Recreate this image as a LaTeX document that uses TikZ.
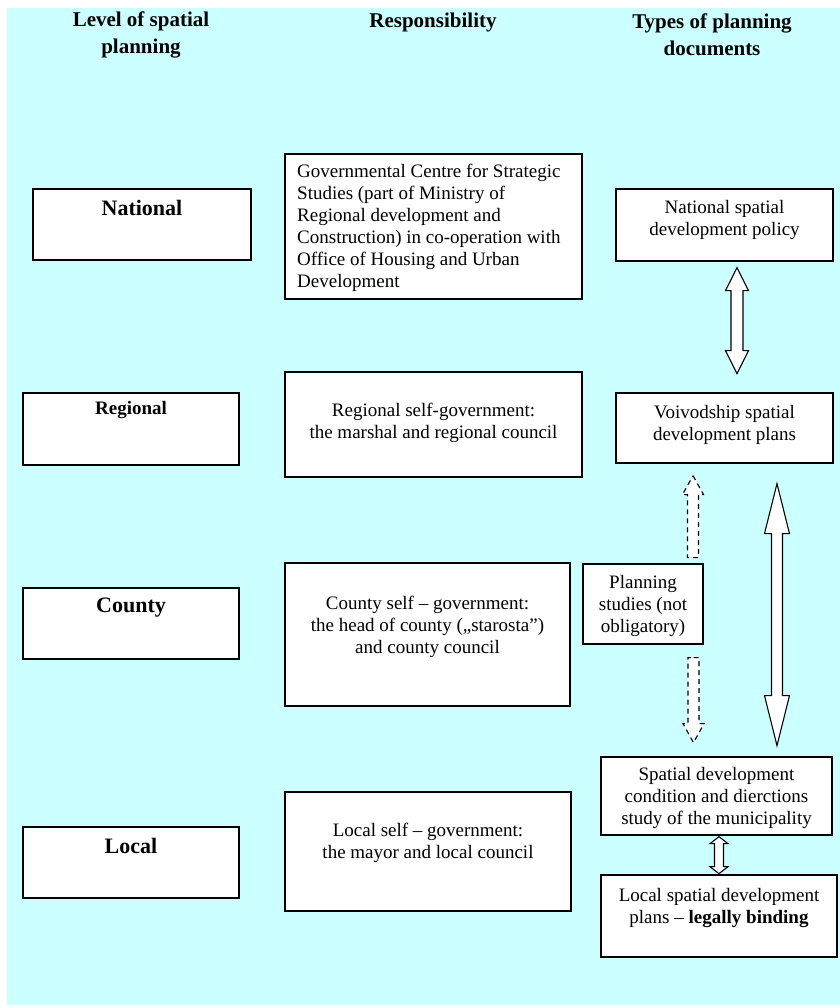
\documentclass[tikz,border=0pt]{standalone}
\usepackage{fontspec}
\setmainfont{Liberation Serif}
\usetikzlibrary{calc}
\definecolor{bgcyan}{RGB}{204,255,255}
\tikzset{
  box/.style={draw=black, fill=white, line width=1.3pt, rectangle, inner sep=0pt},
  lbl/.style={font=\fontsize{19}{22}\selectfont, align=center, inner sep=0pt},
  headtxt/.style={font=\bfseries\fontsize{21}{27}\selectfont, align=center, inner sep=0pt},
  lvl/.style={font=\bfseries\fontsize{22}{26}\selectfont, inner sep=0pt},
  arr/.style={draw=black, fill=white, line width=1.1pt, line join=miter},
  darr/.style={arr, dash pattern=on 5pt off 4pt},
}
% double block arrow: #1 top tip, #2 length, #3 head length, #4 head half width, #5 shaft half width, #6 style
\newcommand{\dblblock}[6]{%
  \draw[#6] (#1) -- ++(#4,#3) -- ++({-(#4-#5)},0) -- ++(0,{#2-2*#3}) -- ++({#4-#5},0)
    -- ++(-#4,#3) -- ++(-#4,-#3) -- ++({#4-#5},0) -- ++(0,{-(#2-2*#3)}) -- ++({-(#4-#5)},0) -- cycle;}
% single block arrow pointing up: #1 tip
\newcommand{\upblock}[6]{%
  \draw[#6] (#1) -- ++(#4,#3) -- ++({-(#4-#5)},0) -- ++(0,{#2-#3}) -- ++({-2*#5},0)
    -- ++(0,{-(#2-#3)}) -- ++({-(#4-#5)},0) -- cycle;}
% single block arrow pointing down: #1 top middle of shaft
\newcommand{\downblock}[6]{%
  \draw[#6] (#1) -- ++(#5,0) -- ++(0,{#2-#3}) -- ++({#4-#5},0) -- ++(-#4,#3)
    -- ++(-#4,-#3) -- ++({#4-#5},0) -- ++(0,{-(#2-#3)}) -- cycle;}
\begin{document}
\begin{tikzpicture}[x=1pt,y=-1pt]
\useasboundingbox (0,0) rectangle (840,1005);
\fill[white] (0,0) rectangle (840,1005);
\fill[bgcyan] (7,8) rectangle (840,1005);

% headers
\node[headtxt] (h1) at (141,35) {Level of spatial\\planning};
\node[headtxt] (h2) at (433,22) {Responsibility};
\node[headtxt] (h3) at (712,35) {Types of planning\\documents};

% level boxes
\node[box, minimum width=218pt, minimum height=71pt] (natL) at (142,224.5) {};
\node[lvl] (natLt) at (142,208) {National};
\node[box, minimum width=216pt, minimum height=72pt] (regL) at (131,429) {};
\node[lvl, font=\bfseries\fontsize{19}{22}\selectfont] (regLt) at (131,410) {Regional};
\node[box, minimum width=216pt, minimum height=71pt] (couL) at (131,623.5) {};
\node[lvl] (couLt) at (131,608) {County};
\node[box, minimum width=216pt, minimum height=71pt] (locL) at (131,862.5) {};
\node[lvl] (locLt) at (131,846) {Local};

% responsibility boxes
\node[box, minimum width=297pt, minimum height=145pt] (natM) at (433.5,226.5) {};
\node[lbl, align=left, anchor=west] (natMt) at (297,228) {Governmental Centre for Strategic\\Studies (part of Ministry of\\Regional development and\\Construction) in co-operation with\\Office of Housing and Urban\\Development};
\node[box, minimum width=297pt, minimum height=105pt] (regM) at (433.5,424.5) {};
\node[lbl] (regMt) at (433.5,423) {Regional self-government:\\the marshal and regional council};
\node[box, minimum width=285pt, minimum height=143pt] (couM) at (427.5,634.5) {};
\node[lbl] (couMt) at (427.5,627) {County self -- government:\\the head of county („starosta”)\\and county council};
\node[box, minimum width=286pt, minimum height=119pt] (locM) at (428,851.5) {};
\node[lbl] (locMt) at (428,842.5) {Local self -- government:\\the mayor and local council};

% document boxes
\node[box, minimum width=217pt, minimum height=72pt] (natR) at (724.5,225) {};
\node[lbl] (natRt) at (724.5,220) {National spatial\\development policy};
\node[box, minimum width=217pt, minimum height=70pt] (voiR) at (724.5,428) {};
\node[lbl] (voiRt) at (724.5,424.5) {Voivodship spatial\\development plans};
\node[box, minimum width=120pt, minimum height=80pt] (plan) at (643,604) {};
\node[lbl] (plant) at (643,605.5) {Planning\\studies (not\\obligatory)};
\node[box, minimum width=231pt, minimum height=78pt] (spat) at (716.5,796) {};
\node[lbl] (spatt) at (716.5,798) {Spatial development\\condition and dierctions\\study of the municipality};
\node[box, minimum width=236pt, minimum height=82pt] (locR) at (719,916) {};
\node[lbl] (locRt) at (719,908) {Local spatial development\\plans -- \textbf{legally binding}};

% connector anchor points
\coordinate (a1) at ($(natR.south)+(12.5,6)$);
\coordinate (a2) at ($(voiR.south)+(-31.5,12)$);
\coordinate (a3) at ($(plan.south)+(50.5,13)$);
\coordinate (a4) at ($(voiR.south)+(52.5,20)$);
\coordinate (a5) at ($(spat.south)+(2.5,1)$);

% arrows
\dblblock{a1}{106}{23}{11.5}{6}{arr}
\upblock{a2}{82}{19}{10.5}{5.5}{darr}
\downblock{a3}{85}{19}{10.5}{5.5}{darr}
\dblblock{a4}{262}{50}{12.5}{5.5}{arr}
\dblblock{a5}{37}{7}{9}{4.5}{arr}
\end{tikzpicture}
\end{document}
